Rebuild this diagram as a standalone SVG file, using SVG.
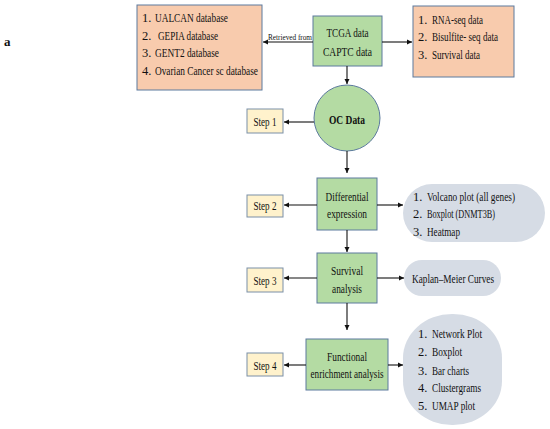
<svg xmlns="http://www.w3.org/2000/svg" width="550" height="429" viewBox="0 0 550 429">
<style>
text{font-family:"Liberation Serif","Times New Roman",serif;fill:#111;}
.t{font-size:12.5px;}
.s{font-size:12px;}
.orange{fill:#F8CBAD;stroke:#5C7A9E;stroke-width:1;}
.green{fill:#B4DBA3;stroke:#5C7A9E;stroke-width:1;}
.step{fill:#FFF2CC;stroke:#7A8FA8;stroke-width:1;}
.gray{fill:#D6DCE5;stroke:none;}
.c line{stroke:#111;stroke-width:1.1;marker-end:url(#ah);}
</style>
<defs>
<marker id="ah" markerWidth="6" markerHeight="6" refX="5" refY="3" orient="auto" markerUnits="userSpaceOnUse">
<path d="M0,0.5 L5,3 L0,5.5 Z" fill="#111"/>
</marker>
</defs>
<rect width="550" height="429" fill="#fff"/>
<text x="4" y="46" style="font-size:13px;font-weight:bold">a</text>

<g id="databases">
<rect class="orange" x="137" y="5" width="125" height="85"/>
<text class="t" x="142" y="22">1.</text><text class="t" x="155" y="22" textLength="73" lengthAdjust="spacingAndGlyphs">UALCAN database</text>
<text class="t" x="142" y="40">2.</text><text class="t" x="158" y="40" textLength="60" lengthAdjust="spacingAndGlyphs">GEPIA database</text>
<text class="t" x="142" y="57">3.</text><text class="t" x="155" y="57" textLength="64" lengthAdjust="spacingAndGlyphs">GENT2 database</text>
<text class="t" x="142" y="75">4.</text><text class="t" x="155" y="75" textLength="103" lengthAdjust="spacingAndGlyphs">Ovarian Cancer sc database</text>
</g>

<g id="tcga">
<rect class="green" x="313" y="16" width="69" height="50"/>
<text class="t" x="347.5" y="37" text-anchor="middle" textLength="42" lengthAdjust="spacingAndGlyphs">TCGA data</text>
<text class="t" x="347.5" y="56" text-anchor="middle" textLength="49" lengthAdjust="spacingAndGlyphs">CAPTC data</text>
</g>

<g id="datatypes">
<rect class="orange" x="413" y="6" width="101" height="71"/>
<text class="t" x="418" y="24">1.</text><text class="t" x="432" y="24" textLength="51" lengthAdjust="spacingAndGlyphs">RNA-seq data</text>
<text class="t" x="418" y="41">2.</text><text class="t" x="432" y="41" textLength="66" lengthAdjust="spacingAndGlyphs">Bisulfite- seq data</text>
<text class="t" x="418" y="59">3.</text><text class="t" x="432" y="59" textLength="48" lengthAdjust="spacingAndGlyphs">Survival data</text>
</g>

<g id="ocdata">
<circle class="green" cx="347" cy="118" r="33"/>
<text class="t" x="347" y="124" text-anchor="middle" style="font-weight:bold" textLength="36" lengthAdjust="spacingAndGlyphs">OC Data</text>
</g>

<g id="step1">
<rect class="step" x="247" y="109" width="36" height="24"/>
<text class="s" x="265" y="126" text-anchor="middle" textLength="23" lengthAdjust="spacingAndGlyphs">Step 1</text>
</g>

<g id="diffexp">
<rect class="green" x="317" y="178" width="60" height="52"/>
<text class="t" x="347" y="201" text-anchor="middle" textLength="43" lengthAdjust="spacingAndGlyphs">Differential</text>
<text class="t" x="347" y="218" text-anchor="middle" textLength="40" lengthAdjust="spacingAndGlyphs">expression</text>
</g>

<g id="step2">
<rect class="step" x="247" y="195" width="36" height="22"/>
<text class="s" x="265" y="210" text-anchor="middle" textLength="23" lengthAdjust="spacingAndGlyphs">Step 2</text>
</g>

<g id="diffplots">
<rect class="gray" x="403" y="184" width="142" height="58" rx="29" ry="29"/>
<text class="t" x="413" y="201">1.</text><text class="t" x="427" y="201" textLength="88" lengthAdjust="spacingAndGlyphs">Volcano plot (all genes)</text>
<text class="t" x="413" y="218">2.</text><text class="t" x="427" y="218" textLength="68" lengthAdjust="spacingAndGlyphs">Boxplot (DNMT3B)</text>
<text class="t" x="413" y="236">3.</text><text class="t" x="427" y="236" textLength="33" lengthAdjust="spacingAndGlyphs">Heatmap</text>
</g>

<g id="survival">
<rect class="green" x="317" y="253" width="60" height="50"/>
<text class="t" x="347" y="275" text-anchor="middle" textLength="32" lengthAdjust="spacingAndGlyphs">Survival</text>
<text class="t" x="347" y="293" text-anchor="middle" textLength="30" lengthAdjust="spacingAndGlyphs">analysis</text>
</g>

<g id="step3">
<rect class="step" x="247" y="268" width="36" height="24"/>
<text class="s" x="265" y="285" text-anchor="middle" textLength="23" lengthAdjust="spacingAndGlyphs">Step 3</text>
</g>

<g id="kaplan">
<rect class="gray" x="404" y="260" width="97" height="36" rx="18" ry="18"/>
<text class="t" x="453" y="283" text-anchor="middle" textLength="82" lengthAdjust="spacingAndGlyphs">Kaplan–Meier Curves</text>
</g>

<g id="functional">
<rect class="green" x="306" y="339" width="82" height="51"/>
<text class="t" x="347" y="361" text-anchor="middle" textLength="40" lengthAdjust="spacingAndGlyphs">Functional</text>
<text class="t" x="347" y="378" text-anchor="middle" textLength="73" lengthAdjust="spacingAndGlyphs">enrichment analysis</text>
</g>

<g id="step4">
<rect class="step" x="247" y="353" width="36" height="23"/>
<text class="s" x="265" y="370" text-anchor="middle" textLength="23" lengthAdjust="spacingAndGlyphs">Step 4</text>
</g>

<g id="funcplots">
<rect class="gray" x="403" y="314" width="99" height="111" rx="49" ry="44"/>
<text class="t" x="418" y="338">1.</text><text class="t" x="432" y="338" textLength="50" lengthAdjust="spacingAndGlyphs">Network Plot</text>
<text class="t" x="418" y="356">2.</text><text class="t" x="432" y="356" textLength="30" lengthAdjust="spacingAndGlyphs">Boxplot</text>
<text class="t" x="418" y="375">3.</text><text class="t" x="432" y="375" textLength="37" lengthAdjust="spacingAndGlyphs">Bar charts</text>
<text class="t" x="418" y="392">4.</text><text class="t" x="432" y="392" textLength="49" lengthAdjust="spacingAndGlyphs">Clustergrams</text>
<text class="t" x="418" y="410">5.</text><text class="t" x="432" y="410" textLength="43" lengthAdjust="spacingAndGlyphs">UMAP plot</text>
</g>

<g id="connectors" class="c">
<line x1="313" y1="42" x2="263" y2="42"/>
<line x1="382" y1="42" x2="412" y2="42"/>
<line x1="347" y1="66" x2="347" y2="84"/>
<line x1="314" y1="122" x2="284" y2="122"/>
<line x1="347" y1="151" x2="347" y2="173"/>
<line x1="317" y1="205" x2="284" y2="205"/>
<line x1="377" y1="205" x2="403" y2="205"/>
<line x1="347" y1="230" x2="347" y2="252"/>
<line x1="317" y1="278" x2="284" y2="278"/>
<line x1="377" y1="278" x2="404" y2="278"/>
<line x1="347" y1="303" x2="347" y2="330"/>
<line x1="306" y1="365" x2="284" y2="365"/>
<line x1="388" y1="365" x2="403" y2="365"/>
<text x="268" y="40" style="font-size:8px" textLength="44" lengthAdjust="spacingAndGlyphs">Retrieved from</text>
</g>
</svg>
